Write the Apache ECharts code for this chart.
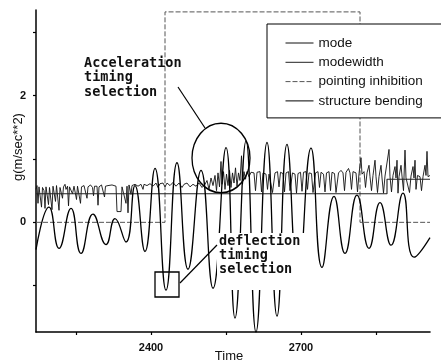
<!DOCTYPE html>
<html>
<head>
<meta charset="utf-8">
<script src="https://cdn.jsdelivr.net/npm/echarts@6/dist/echarts.min.js"></script>
<style>html,body{margin:0;padding:0;background:#fff;}#c{width:441px;height:364px;}</style>
</head>
<body>
<div id="c"></div>
<script>
// ---- data ----
const seriesNames = ['mode', 'modewidth', 'pointing inhibition', 'structure bending'];
const xTicks = [2250, 2400, 2550, 2700, 2850];
const xLabels = [2400, 2700];
const yTicks = [-1, 0, 1, 2, 3];
const yLabels = [0, 2];

// noisy "mode" line [time, g]
const modeData = [
  [2170,0.52],[2172,0.58],[2174,0.30],[2176,0.56],[2179,0.57],[2181,0.24],[2183,0.55],[2186,0.50],[2188,0.22],[2190,0.56],
  [2193,0.58],[2195,0.28],[2197,0.55],[2200,0.54],[2202,0.20],[2204,0.57],[2207,0.55],[2209,0.33],[2211,0.58],[2214,0.56],
  [2216,0.19],[2218,0.55],[2221,0.58],[2223,0.38],[2225,0.56],[2228,0.60],[2230,0.52],[2233,0.57],[2235,0.26],[2237,0.56],
  [2241,0.58],[2243,0.45],[2246,0.57],[2249,0.60],[2251,0.36],[2253,0.57],[2257,0.55],[2259,0.30],[2261,0.56],
  [2266,0.58],[2270,0.55],[2272,0.38],[2274,0.56],[2279,0.59],[2283,0.55],[2285,0.42],[2287,0.57],[2292,0.57],[2294,0.27],
  [2296,0.56],[2301,0.59],[2305,0.56],[2307,0.40],[2309,0.57],[2314,0.58],[2318,0.55],[2322,0.59],[2326,0.56],[2330,0.57],
  [2332,0.17],[2340,0.17],[2342,0.56],[2346,0.58],[2350,0.30],[2352,0.57],[2354,0.15],[2356,0.59],[2360,0.44],[2362,0.58],
  [2368,0.60],[2374,0.57],[2380,0.60],[2384,0.52],[2386,0.60],[2392,0.58],[2398,0.61],[2404,0.57],[2410,0.62],[2414,0.55],
  [2418,0.61],[2424,0.62],[2428,0.56],[2432,0.62],[2438,0.58],[2444,0.63],[2450,0.57],[2456,0.62],[2462,0.55],[2466,0.60],
  [2472,0.62],[2478,0.56],[2484,0.60],[2490,0.57],[2496,0.62],[2502,0.55],[2508,0.60],
  [2512,0.66],[2516,0.52],[2520,0.70],[2524,0.58],[2528,0.74],[2531,0.50],[2534,0.78],[2537,0.56],[2540,0.96],[2542,0.60],
  [2545,0.80],[2548,0.52],[2551,0.76],[2554,0.58],[2557,0.82],[2560,0.55],[2563,0.78],[2566,0.62],[2569,0.86],[2572,0.57],
  [2575,0.78],[2578,0.66],[2581,1.05],[2583,0.60],[2586,0.80],[2589,0.68],[2592,0.80],[2596,0.72],
  [2600,0.79],[2606,0.78],[2609,0.50],[2612,0.79],[2618,0.80],[2621,0.48],[2624,0.78],[2630,0.76],[2633,0.52],[2636,0.76],
  [2640,0.78],[2643,0.47],[2645,0.47],[2648,0.78],[2653,0.80],[2656,0.56],[2659,0.79],[2664,0.77],[2667,0.48],[2670,0.78],
  [2675,0.80],[2678,0.50],[2680,0.50],[2683,0.78],[2688,0.76],[2691,0.46],[2694,0.77],[2699,0.79],[2702,0.49],[2705,0.79],
  [2710,0.80],[2713,0.52],[2716,0.78],[2721,0.77],[2724,0.47],[2726,0.47],[2729,0.78],[2734,0.80],[2737,0.55],[2740,0.79],
  [2745,0.76],[2748,0.48],[2751,0.78],[2756,0.80],[2759,0.50],[2762,0.79],[2767,0.77],[2770,0.47],[2772,0.47],[2775,0.78],
  [2780,0.82],[2784,0.78],[2787,0.50],[2790,0.79],[2795,0.85],[2798,0.78],[2801,0.52],[2804,0.80],[2810,0.78],[2813,0.48],
  [2816,0.77],[2820,1.02],[2822,0.76],[2826,0.80],[2829,0.55],[2832,0.78],[2836,0.90],[2838,0.72],[2841,0.50],[2844,0.74],
  [2848,0.98],[2850,0.72],[2853,0.47],[2856,0.72],[2860,0.90],[2862,0.70],[2865,0.46],[2868,0.73],[2872,0.70],[2876,1.15],
  [2878,0.72],[2881,0.48],[2884,0.74],[2888,0.88],[2890,0.70],[2892,0.98],[2894,0.46],[2896,0.72],[2900,0.90],[2902,0.73],
  [2905,0.50],[2908,1.14],[2910,0.70],[2914,0.72],[2917,0.47],[2920,0.73],[2924,0.88],[2926,0.70],[2928,0.98],[2930,0.52],
  [2933,0.74],[2938,0.72],[2941,0.50],[2944,0.72],[2948,0.90],[2950,0.74],[2952,1.12],[2954,0.72],[2958,0.74]
];

// step line "modewidth"
const modewidthData = [[2170,0.45],[2872,0.45],[2872,0.68],[2958,0.68]];

// "pointing inhibition" on/off
const pointingData = [[2170,0],[2428,0],[2428,3.32],[2818,3.32],[2818,0],[2958,0]];

// oscillating "structure bending" (peaks and troughs)
const bendingData = [
  [2170,-0.43],[2196,0.24],[2216,-0.41],[2240,0.22],[2260,-0.49],[2284,0.13],[2310,-0.35],[2328,0.06],[2350,-0.31],
  [2368,0.58],[2388,-0.46],[2408,0.85],[2430,-1.07],[2452,0.94],[2474,-0.74],[2500,0.82],[2524,-1.04],[2550,1.18],
  [2568,-1.51],[2590,1.28],[2610,-1.73],[2632,1.26],[2652,-1.48],[2672,1.23],[2694,-0.94],[2720,1.17],[2742,-0.71],
  [2766,0.41],[2788,-0.49],[2812,0.43],[2836,-0.41],[2858,0.31],[2880,-0.36],[2904,0.46],[2926,-0.55],[2958,-0.24]
];

const seriesColors = ['#111', '#222', '#555', '#000'];

const chart = echarts.init(document.getElementById('c'), null, {renderer: 'canvas'});
const txt = '#111';
const lblFont = {color: txt, fontSize: 11, fontWeight: 'bold', fontFamily: 'Liberation Sans, Arial, sans-serif'};

chart.setOption({
  animation: false,
  backgroundColor: '#fff',
  color: seriesColors,
  grid: {left: 36, right: 11, top: 10, bottom: 32, containLabel: false, outerBoundsMode: 'none'},
  xAxis: {
    type: 'value', min: 2170, max: 2958,
    axisLine: {onZero: false, lineStyle: {color: '#000', width: 1.6}},
    axisTick: {customValues: xTicks, length: 3, lineStyle: {color: '#000', width: 1.2}},
    axisLabel: Object.assign({customValues: xLabels, margin: 10, formatter: v => String(v)}, lblFont),
    splitLine: {show: false}
  },
  yAxis: {
    type: 'value', min: -1.73, max: 3.35,
    axisLine: {show: true, onZero: false, lineStyle: {color: '#000', width: 1.5}},
    axisTick: {show: true, customValues: yTicks, length: 3, lineStyle: {color: '#000', width: 1.2}},
    axisLabel: Object.assign({customValues: yLabels, margin: 10, formatter: v => String(v)}, lblFont),
    splitLine: {show: false}
  },
  legend: {
    orient: 'vertical', left: 267, top: 24,
    data: seriesNames,
    backgroundColor: '#fff', borderColor: '#000', borderWidth: 1,
    padding: [12, 20, 10, 18],
    itemWidth: 28, itemHeight: 14, itemGap: 5.3,
    itemStyle: {opacity: 0},
    lineStyle: {width: 1},
    textStyle: {color: txt, fontSize: 13.5, fontFamily: 'Liberation Sans, Arial, sans-serif'},
    z: 20
  },
  series: [
    {name: seriesNames[0], type: 'line', data: modeData, symbol: 'none', showSymbol: false,
     itemStyle: {color: seriesColors[0]}, lineStyle: {color: seriesColors[0], width: 0.9}, z: 3},
    {name: seriesNames[1], type: 'line', data: modewidthData, symbol: 'none', showSymbol: false,
     itemStyle: {color: seriesColors[1]}, lineStyle: {color: seriesColors[1], width: 1.1}, z: 3},
    {name: seriesNames[2], type: 'line', data: pointingData, symbol: 'none', showSymbol: false,
     itemStyle: {color: seriesColors[2]}, lineStyle: {color: seriesColors[2], width: 1, type: [5, 2]}, z: 2},
    {name: seriesNames[3], type: 'line', data: bendingData, symbol: 'none', showSymbol: false, smooth: 0.5,
     itemStyle: {color: seriesColors[3]}, lineStyle: {color: seriesColors[3], width: 1.3}, z: 4}
  ],
  graphic: [
    {type: 'text', x: 18, y: 147, rotation: Math.PI / 2, z: 50,
     style: {text: 'g(m/sec**2)', fill: txt, font: '13px "Liberation Sans", Arial, sans-serif', align: 'center', verticalAlign: 'middle'}},
    {type: 'text', x: 229, y: 356, z: 50,
     style: {text: 'Time', fill: txt, font: '13px "Liberation Sans", Arial, sans-serif', align: 'center', verticalAlign: 'middle'}},
    {type: 'text', x: 84, y: 56, z: 50,
     style: {text: 'Acceleration\ntiming\nselection', fill: txt, font: 'bold 13.5px "DejaVu Sans Mono", monospace', lineHeight: 14.5}},
    {type: 'line', z: 50, shape: {x1: 178, y1: 87, x2: 205, y2: 128}, style: {stroke: '#000', lineWidth: 1.2}},
    {type: 'circle', z: 50, x: 221, y: 158, scaleY: 1.2, shape: {cx: 0, cy: 0, r: 29},
     style: {fill: 'none', stroke: '#000', lineWidth: 1.3}},
    {type: 'rect', z: 50, shape: {x: 217, y: 233, width: 90, height: 57}, style: {fill: '#fff'}},
    {type: 'text', x: 219, y: 235, z: 51,
     style: {text: 'deflection\ntiming\nselection', fill: txt, font: 'bold 13.5px "DejaVu Sans Mono", monospace', lineHeight: 13.7}},
    {type: 'rect', z: 50, shape: {x: 155, y: 272, width: 24, height: 25}, style: {fill: 'none', stroke: '#000', lineWidth: 1.3}},
    {type: 'line', z: 50, shape: {x1: 180, y1: 283, x2: 217, y2: 245}, style: {stroke: '#000', lineWidth: 1.2}}
  ]
});
</script>
</body>
</html>
